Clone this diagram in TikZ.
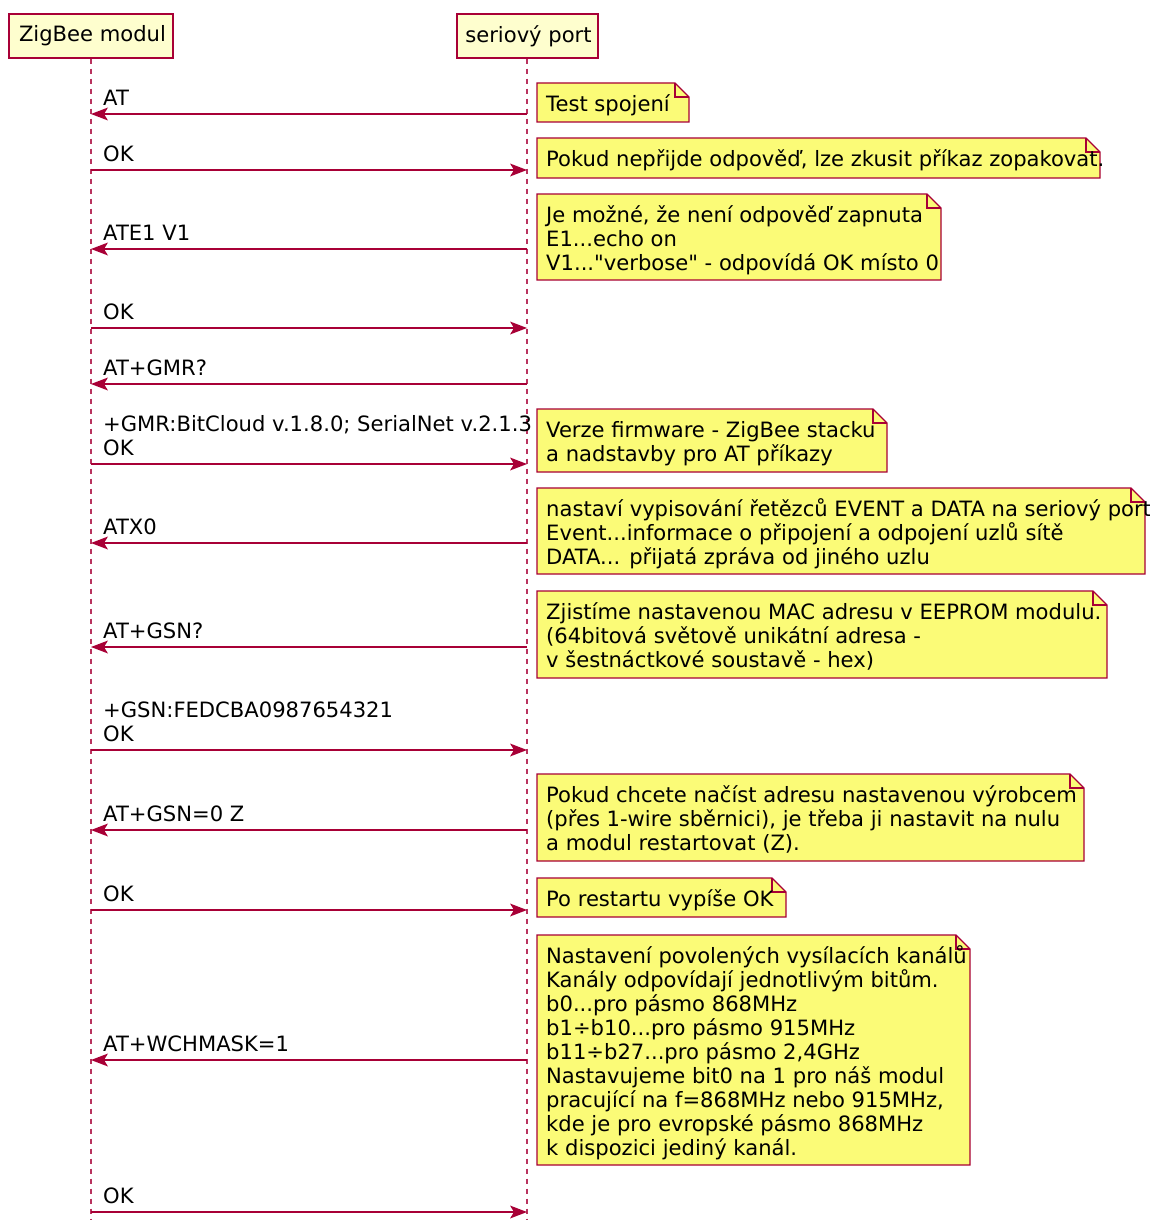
\documentclass[tikz,border=0pt]{standalone}
\usepackage{fontspec}
\setmainfont{DejaVu Sans}[Ligatures=TeXOff]
\definecolor{umlred}{HTML}{A80036}
\definecolor{partfill}{HTML}{FEFECE}
\definecolor{notefill}{HTML}{FBFB77}
\newcommand\umlfont{\fontsize{21.1}{24}\selectfont\lineskiplimit=-20pt\lineskip=0pt}
\newcommand\tstrut{\rule{0pt}{20pt}}
% note with folded corner: name, top, bottom, right edge, text
\newcommand\umlnote[5]{%
  \draw[notebg] (537,#2) -- ({#4-14},#2) -- (#4,{#2+14}) -- (#4,#3) -- (537,#3) -- cycle;
  \draw[notebg,fill=none] ({#4-14},#2) -- ({#4-14},{#2+14}) -- (#4,{#2+14});
  \node[notetext] (#1) at (546,{#2+8}) {\tstrut #5};
}
% message from seriový port to ZigBee modul: index, y, label
\newcommand\msgleft[3]{%
  \coordinate (z#1) at (91,#2);
  \coordinate (s#1) at (527,#2);
  \draw[msg] (s#1) -- ([xshift=12pt]z#1);
  \fill[umlred] (z#1) -- ++(17,-6.5) -- ++(-4,6.5) -- ++(4,6.5) -- cycle;
  \node[lbl] (m#1) at (103,{#2-29}) {\tstrut #3};
}
% message from ZigBee modul to seriový port: index, y, label line(s)
\newcommand\msgright[3]{%
  \coordinate (z#1) at (91,#2);
  \coordinate (s#1) at (527,#2);
  \draw[msg] (z#1) -- ([xshift=-12pt]s#1);
  \fill[umlred] (s#1) -- ++(-17,-6.5) -- ++(4,6.5) -- ++(-4,6.5) -- cycle;
  \node[lbl] (m#1) at (103,{#2-29}) {\tstrut #3};
}
\newcommand\msgrighttwo[4]{%
  \coordinate (z#1) at (91,#2);
  \coordinate (s#1) at (527,#2);
  \draw[msg] (z#1) -- ([xshift=-12pt]s#1);
  \fill[umlred] (s#1) -- ++(-17,-6.5) -- ++(4,6.5) -- ++(-4,6.5) -- cycle;
  \node[lbl] (m#1) at (103,{#2-53}) {\tstrut #3\\#4};
}
\begin{document}
\begin{tikzpicture}[x=1pt,y=-1pt,
  every node/.style={inner sep=0pt,font=\umlfont},
  participant/.style={draw=umlred,fill=partfill,line width=1.2pt,minimum height=44pt},
  lifeline/.style={draw=umlred!80,line width=1.4pt,dash pattern=on 5pt off 5pt},
  msg/.style={draw=umlred,line width=1.5pt},
  notebg/.style={draw=umlred,fill=notefill,line width=1.2pt,line join=miter},
  lbl/.style={anchor=north west,align=left},
  notetext/.style={anchor=north west,align=left},
]
\useasboundingbox (0,0) rectangle (1149,1220);

% participants and lifelines
\node[participant,minimum width=164pt] (zb) at (91,36) {\hspace{3pt}ZigBee modul};
\node[participant,minimum width=141pt] (sp) at (527.5,36) {\hspace{2pt}seriový port};
\coordinate (zbend) at (91,1220);
\coordinate (spend) at (527,1220);
\draw[lifeline] (zb.south) -- (zbend);
\draw[lifeline] ([xshift=-0.5pt]sp.south) -- (spend);

% messages
\msgleft{1}{114}{AT}
\msgright{2}{170}{OK}
\msgleft{3}{249}{ATE1 V1}
\msgright{4}{328}{OK}
\msgleft{5}{384}{AT+GMR?}
\msgrighttwo{6}{464}{+GMR:BitCloud v.1.8.0; SerialNet v.2.1.3}{OK}
\msgleft{7}{543}{ATX0}
\msgleft{8}{647}{AT+GSN?}
\msgrighttwo{9}{750}{+GSN:FEDCBA0987654321}{OK}
\msgleft{10}{830}{AT+GSN=0 Z}
\msgright{11}{910}{OK}
\msgleft{12}{1060}{AT+WCHMASK=1}
\msgright{13}{1212}{OK}

% notes
\umlnote{n1}{83}{122}{689}{Test spojení}
\umlnote{n2}{138}{178}{1100}{Pokud nepřijde odpověď, lze zkusit příkaz zopakovat.}
\umlnote{n3}{194}{280}{941}{Je možné, že není odpověď zapnuta\\E1...echo on\\V1..."verbose" - odpovídá OK místo 0}
\umlnote{n4}{409}{472}{887}{Verze firmware - ZigBee stacku\\a nadstavby pro AT příkazy}
\umlnote{n5}{488}{574}{1145}{nastaví vypisování řetězců EVENT a DATA na seriový port\\Event...informace o připojení a odpojení uzlů sítě\\DATA... přijatá zpráva od jiného uzlu}
\umlnote{n6}{591}{678}{1107}{Zjistíme nastavenou MAC adresu v EEPROM modulu.\\(64bitová světově unikátní adresa -\\v šestnáctkové soustavě - hex)}
\umlnote{n7}{774}{861}{1084}{Pokud chcete načíst adresu nastavenou výrobcem\\(přes 1-wire sběrnici), je třeba ji nastavit na nulu\\a modul restartovat (Z).}
\umlnote{n8}{878}{917}{786}{Po restartu vypíše OK}
\umlnote{n9}{935}{1165}{970}{Nastavení povolených vysílacích kanálů\\Kanály odpovídají jednotlivým bitům.\\b0...pro pásmo 868MHz\\b1÷b10...pro pásmo 915MHz\\b11÷b27...pro pásmo 2,4GHz\\Nastavujeme bit0 na 1 pro náš modul\\pracující na f=868MHz nebo 915MHz,\\kde je pro evropské pásmo 868MHz\\k dispozici jediný kanál.}
\end{tikzpicture}
\end{document}
